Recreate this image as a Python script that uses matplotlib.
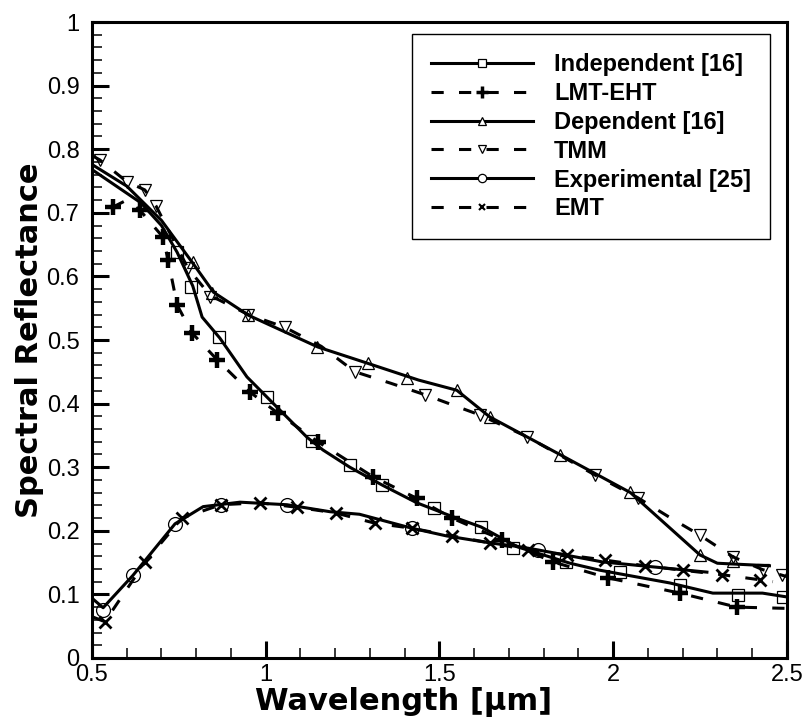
import matplotlib
matplotlib.use("Agg")
import matplotlib.pyplot as plt
from matplotlib.ticker import MultipleLocator, FormatStrFormatter

plt.rcParams['font.family'] = ['Liberation Sans', 'DejaVu Sans']

# Independent [16] - solid line, open squares
ind_x = [0.5, 0.64, 0.70, 0.745, 0.79, 0.817, 0.868, 0.946, 1.004, 1.119, 1.165, 1.242, 1.335,
         1.435, 1.539, 1.62, 1.674, 1.723, 1.876, 1.962, 2.163, 2.287, 2.43, 2.5]
ind_y = [0.768, 0.716, 0.68, 0.638, 0.585, 0.536, 0.503, 0.442, 0.41, 0.347, 0.327, 0.30, 0.272,
         0.244, 0.222, 0.206, 0.19, 0.175, 0.149, 0.138, 0.118, 0.102, 0.102, 0.096]
ind_mx = [0.745, 0.785, 0.865, 1.004, 1.133, 1.242, 1.335, 1.484, 1.619, 1.712, 1.864, 2.019,
          2.192, 2.359, 2.488]
ind_my = [0.638, 0.583, 0.505, 0.41, 0.341, 0.303, 0.272, 0.236, 0.206, 0.173, 0.151, 0.135,
          0.115, 0.099, 0.096]

# LMT-EHT - dashed line, plus
lmt_x = [0.56, 0.60, 0.638, 0.704, 0.719, 0.745, 0.788, 0.86, 0.955, 1.035, 1.15, 1.309, 1.435,
         1.536, 1.68, 1.827, 1.985, 2.192, 2.356, 2.5]
lmt_y = [0.709, 0.72, 0.704, 0.662, 0.626, 0.555, 0.511, 0.469, 0.418, 0.385, 0.34, 0.285, 0.251,
         0.22, 0.186, 0.151, 0.126, 0.102, 0.08, 0.078]
lmt_mx = [0.56, 0.638, 0.704, 0.719, 0.745, 0.788, 0.86, 0.955, 1.035, 1.15, 1.309, 1.435, 1.536,
          1.68, 1.827, 1.985, 2.192, 2.356]
lmt_my = [0.709, 0.704, 0.662, 0.626, 0.555, 0.511, 0.469, 0.418, 0.385, 0.34, 0.285, 0.251, 0.22,
          0.186, 0.151, 0.126, 0.102, 0.08]

# Dependent [16] - solid line, open up-triangles
dep_x = [0.5, 0.6, 0.7, 0.79, 0.85, 0.95, 1.15, 1.29, 1.44, 1.55, 1.645, 1.85, 2.05, 2.25,
         2.30, 2.45]
dep_y = [0.776, 0.742, 0.688, 0.621, 0.575, 0.539, 0.489, 0.464, 0.437, 0.421, 0.379, 0.319,
         0.26, 0.162, 0.149, 0.145]
dep_mx = [0.79, 0.845, 0.949, 1.147, 1.294, 1.406, 1.55, 1.645, 1.847, 2.05, 2.25, 2.345]
dep_my = [0.623, 0.574, 0.539, 0.489, 0.464, 0.44, 0.421, 0.379, 0.319, 0.261, 0.162, 0.152]

# TMM - dashed line, open down-triangles
tmm_x = [0.5, 0.523, 0.60, 0.652, 0.684, 0.776, 0.84, 0.95, 1.055, 1.16, 1.257, 1.36, 1.458,
         1.617, 1.752, 1.947, 2.071, 2.16, 2.25, 2.345, 2.43, 2.5]
tmm_y = [0.79, 0.783, 0.749, 0.736, 0.711, 0.613, 0.57, 0.54, 0.52, 0.49, 0.45, 0.432, 0.414,
         0.382, 0.348, 0.288, 0.252, 0.222, 0.193, 0.159, 0.139, 0.128]
tmm_mx = [0.523, 0.60, 0.652, 0.684, 0.776, 0.84, 0.949, 1.055, 1.257, 1.458, 1.617, 1.752,
          1.947, 2.071, 2.25, 2.345, 2.43, 2.485]
tmm_my = [0.783, 0.749, 0.736, 0.711, 0.613, 0.568, 0.539, 0.52, 0.45, 0.414, 0.382, 0.348,
          0.288, 0.252, 0.193, 0.159, 0.139, 0.13]

# Experimental [25] - solid line, open circles
exp_x = [0.5, 0.532, 0.618, 0.739, 0.82, 0.926, 1.061, 1.185, 1.27, 1.421, 1.52, 1.645, 1.73,
         1.783, 1.97, 2.12, 2.27]
exp_y = [0.094, 0.079, 0.13, 0.211, 0.238, 0.245, 0.241, 0.23, 0.226, 0.204, 0.192, 0.181, 0.175,
         0.17, 0.151, 0.143, 0.135]
exp_mx = [0.532, 0.618, 0.739, 0.871, 1.061, 1.421, 1.783, 2.12]
exp_my = [0.075, 0.13, 0.211, 0.241, 0.241, 0.204, 0.17, 0.143]

# EMT - dashed line, x
emt_x = [0.5, 0.537, 0.653, 0.759, 0.871, 0.983, 1.09, 1.202, 1.314, 1.421, 1.536, 1.645, 1.755,
         1.867, 1.976, 2.091, 2.2, 2.313, 2.422, 2.46]
emt_y = [0.065, 0.057, 0.151, 0.22, 0.241, 0.244, 0.237, 0.228, 0.212, 0.204, 0.192, 0.181, 0.17,
         0.162, 0.154, 0.145, 0.138, 0.131, 0.123, 0.12]
emt_mx = emt_x[1:-1]
emt_my = emt_y[1:-1]

fig = plt.figure(figsize=(8.07, 7.17), dpi=100)
ax = fig.add_axes([0.114, 0.0823, 0.861, 0.887])

lw = 2.2
dash = (4, 5)
series = [
    ("Independent [16]", ind_x, ind_y, ind_mx, ind_my, '-', 's', 8.5, 0.9),
    ("LMT-EHT", lmt_x, lmt_y, lmt_mx, lmt_my, '--', 'P', 0, 0),
    ("Dependent [16]", dep_x, dep_y, dep_mx, dep_my, '-', '^', 9, 0.9),
    ("TMM", tmm_x, tmm_y, tmm_mx, tmm_my, '--', 'v', 9, 0.9),
    ("Experimental [25]", exp_x, exp_y, exp_mx, exp_my, '-', 'o', 10, 0.9),
    ("EMT", emt_x, emt_y, emt_mx, emt_my, '--', 'x', 8, 2.0),
]

handles = []
for label, x, y, mx, my, ls, mk, ms, mew in series:
    line, = ax.plot(x, y, color='black', linewidth=lw, linestyle=ls)
    if ls == '--':
        line.set_dashes(dash)
    if mk == 'P':
        ax.plot(mx, my, linestyle='none', marker='+', markersize=12, markeredgewidth=3.2,
                color='black')
        h, = ax.plot([], [], color='black', linewidth=lw, linestyle=ls, marker='+',
                     markersize=9, markeredgewidth=2.5)
    else:
        ax.plot(mx, my, linestyle='none', marker=mk, markersize=ms, markeredgewidth=mew,
                markeredgecolor='black', markerfacecolor='none')
        h, = ax.plot([], [], color='black', linewidth=lw, linestyle=ls, marker=mk,
                     markersize=ms * 0.6, markeredgewidth=min(mew, 1.0) if mk != 'x' else 1.5,
                     markerfacecolor='white', markeredgecolor='black')
    if ls == '--':
        h.set_dashes(dash)
    h.set_label(label)
    handles.append(h)

ax.set_xlim(0.5, 2.5)
ax.set_ylim(0, 1)
ax.xaxis.set_major_locator(MultipleLocator(0.5))
ax.xaxis.set_minor_locator(MultipleLocator(0.1))
ax.yaxis.set_major_locator(MultipleLocator(0.1))
ax.yaxis.set_minor_locator(MultipleLocator(0.02))
ax.xaxis.set_major_formatter(FormatStrFormatter('%g'))
ax.yaxis.set_major_formatter(FormatStrFormatter('%g'))
ax.tick_params(which='major', direction='in', length=12, width=2.2, labelsize=17)
ax.tick_params(axis='y', which='major', pad=9)
ax.tick_params(axis='x', which='major', pad=4)
ax.tick_params(which='minor', direction='in', length=7, width=1.1)
ax.tick_params(top=False, right=False, which='both')
for s in ax.spines.values():
    s.set_linewidth(2.2)

label_font = {'family': 'DejaVu Sans', 'size': 22, 'weight': 'bold'}
ax.set_xlabel('Wavelength [\u03bcm]', fontdict=label_font, va='baseline')
ax.xaxis.set_label_coords(0.449, -0.0818)
ax.set_ylabel('Spectral Reflectance', fontdict=label_font, va='baseline')
ax.yaxis.set_label_coords(-0.078, 0.5)

leg = ax.legend(handles=handles, loc='upper right', bbox_to_anchor=(0.9755, 0.981),
                borderaxespad=0, fancybox=False, framealpha=1, edgecolor='black',
                handlelength=4.3, handletextpad=0.9, labelspacing=0.25, borderpad=0.8,
                prop={'size': 17, 'weight': 'bold'})
leg.get_frame().set_linewidth(1.0)

fig.savefig('out.png', dpi=100)
